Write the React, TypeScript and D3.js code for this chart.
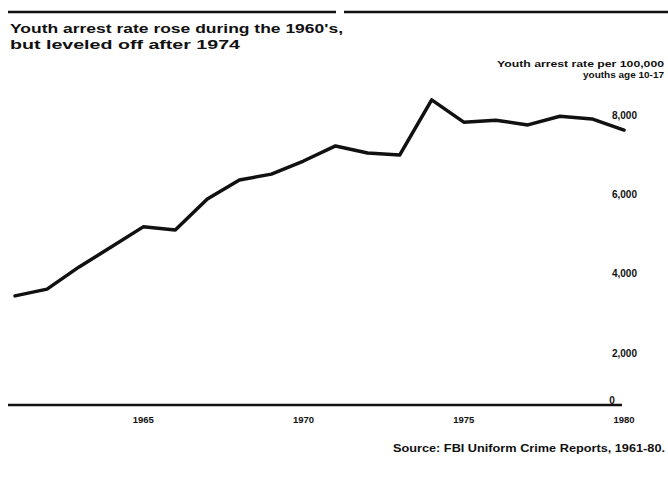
import { useMemo } from "react";
import * as d3 from "d3";

const years = [
  1961, 1962, 1963, 1964, 1965, 1966, 1967, 1968, 1969, 1970,
  1971, 1972, 1973, 1974, 1975, 1976, 1977, 1978, 1979, 1980,
];
const arrestRate = [
  3440, 3610, 4170, 4670, 5180, 5100, 5880, 6360, 6510, 6840,
  7220, 7040, 6990, 8380, 7820, 7870, 7750, 7970, 7900, 7620,
];
const yTicks = [2000, 4000, 6000, 8000];
const xTicks = [1965, 1970, 1975, 1980];

const titleLines = ["Youth arrest rate rose during the 1960's,", "but leveled off after 1974"];
const unitLines = ["Youth arrest rate per 100,000", "youths age 10-17"];
const source = "Source: FBI Uniform Crime Reports, 1961-80.";

const W = 668;
const H = 477;
const FONT = "'Liberation Sans', Arial, sans-serif";
const INK = "#111";

export default function App() {
  const x = useMemo(() => d3.scaleLinear().domain([1961, 1980]).range([15, 624]), []);
  const y = useMemo(() => d3.scaleLinear().domain([2000, 8000]).range([353, 115]), []);
  const baseY = 405;

  const line = d3
    .line<number>()
    .x((_, i) => x(years[i]))
    .y((d) => y(d))
    .curve(d3.curveLinear);

  const fmt = (v: number) => d3.format(",")(v);

  return (
    <svg
      width={W}
      height={H}
      style={{ position: "absolute", left: 0, top: 0, background: "#fff" }}
      fontFamily={FONT}
      fontWeight="bold"
    >
      {/* top rule */}
      <line x1={8} x2={336} y1={12} y2={12} stroke={INK} strokeWidth={2.5} />
      <line x1={344} x2={668} y1={12} y2={12} stroke={INK} strokeWidth={2.5} />

      {/* title */}
      {titleLines.map((t, i) => (
        <text
          key={t}
          x={10}
          y={33 + i * 16}
          fontSize={12.5}
          fill={INK}
          textLength={i === 0 ? 333 : 230}
          lengthAdjust="spacingAndGlyphs"
        >
          {t}
        </text>
      ))}

      {/* unit label */}
      {unitLines.map((t, i) => (
        <text
          key={t}
          x={664}
          y={67 + i * 11}
          fontSize={9.5}
          fill={INK}
          textAnchor="end"
          textLength={i === 0 ? 167 : 81}
          lengthAdjust="spacingAndGlyphs"
        >
          {t}
        </text>
      ))}

      {/* y ticks */}
      {yTicks.map((v) => (
        <text key={v} x={637} y={y(v) + 3.5} fontSize={10} fill={INK} textAnchor="end">
          {fmt(v)}
        </text>
      ))}
      <text x={612} y={baseY - 1} fontSize={10} fill={INK} textAnchor="middle">
        0
      </text>

      {/* baseline */}
      <line x1={8} x2={622} y1={baseY} y2={baseY} stroke={INK} strokeWidth={2.5} />

      {/* x ticks */}
      {xTicks.map((v) => (
        <text key={v} x={x(v)} y={423} fontSize={9.5} fill={INK} textAnchor="middle">
          {v}
        </text>
      ))}

      {/* series */}
      <path
        d={line(arrestRate) ?? ""}
        fill="none"
        stroke={INK}
        strokeWidth={3.5}
        strokeLinejoin="round"
        strokeLinecap="round"
      />

      {/* source */}
      <text
        x={665}
        y={452}
        fontSize={10.5}
        fill={INK}
        textAnchor="end"
        textLength={272}
        lengthAdjust="spacingAndGlyphs"
      >
        {source}
      </text>
    </svg>
  );
}
